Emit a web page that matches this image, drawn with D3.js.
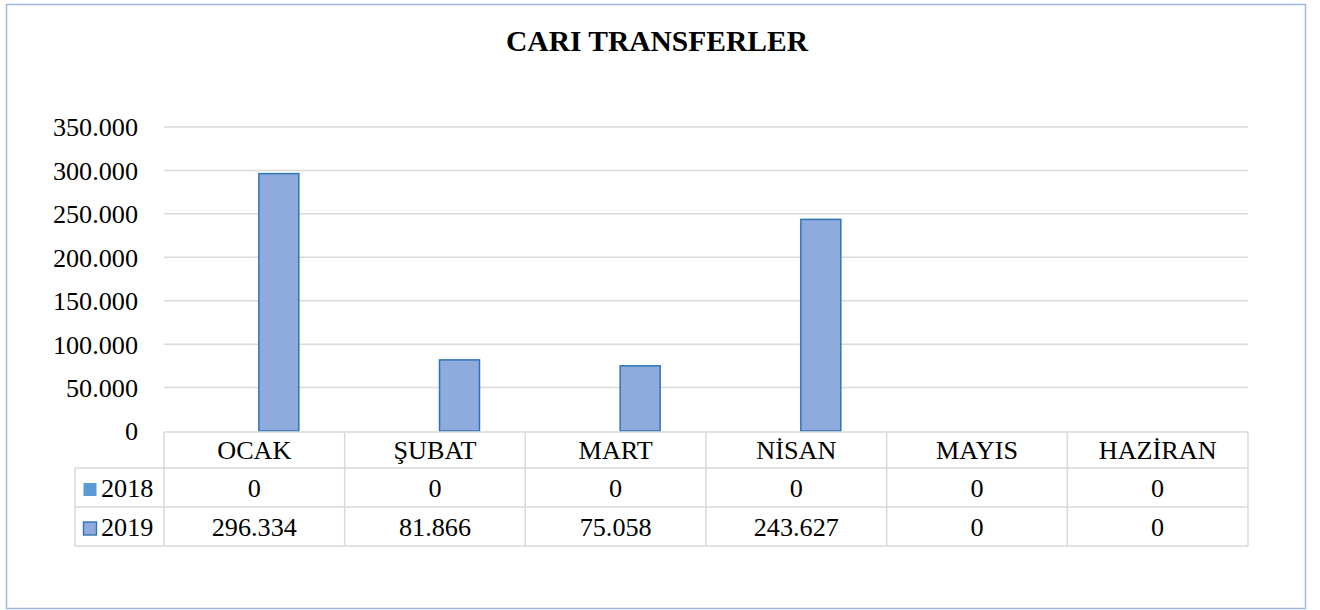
<!DOCTYPE html>
<html><head><meta charset="utf-8">
<script src="https://cdn.jsdelivr.net/npm/d3@7"></script>
<style>body{margin:0;background:#fff}svg{display:block}text{font-family:"Liberation Serif","Times New Roman",serif;fill:#000}</style>
</head><body><svg id="c" width="1320" height="610"></svg>
<script>
const title = "CARI TRANSFERLER";
const categories = ["OCAK","ŞUBAT","MART","NİSAN","MAYIS","HAZİRAN"];
const seriesNames = ["2018","2019"];
const values2018 = [0,0,0,0,0,0];
const values2019 = [296334,81866,75058,243627,0,0];
const yTicks = [0,50000,100000,150000,200000,250000,300000,350000];

const series = [
  {name: seriesNames[0], values: values2018, fill: "#5b9bd5", stroke: "none"},
  {name: seriesNames[1], values: values2019, fill: "#8faadc", stroke: "#2e75b6"}
];
const loc = d3.formatLocale({thousands: ".", decimal: ",", grouping: [3], currency: ["",""]});
const fmt = loc.format(",");
const FS = 26.2;

const svg = d3.select("#c");
svg.append("rect").attr("x",6.5).attr("y",4.5).attr("width",1299).attr("height",604)
  .attr("fill","#fff").attr("stroke","#9bb8e2").attr("stroke-width",1.5);

svg.append("text").attr("x",657).attr("y",51).attr("text-anchor","middle")
  .attr("font-size",29.5).attr("font-weight","bold").text(title);

const left = 164, right = 1248;
const x = d3.scaleBand().domain(categories).range([left,right]).padding(0);
const xs = d3.scaleBand().domain(seriesNames).range([0,x.bandwidth()]).paddingInner(0.184).paddingOuter(0.936);
const y = d3.scaleLinear().domain([0,350000]).range([431,127]);

// gridlines
svg.append("g").selectAll("line").data(yTicks.filter(t=>t>0)).join("line")
  .attr("x1",left).attr("x2",right).attr("y1",d=>y(d)).attr("y2",d=>y(d))
  .attr("stroke","#d9d9d9").attr("stroke-width",1.5);

// y axis labels
const yAxis = d3.axisLeft(y).tickValues(yTicks).tickFormat(fmt).tickSize(0).tickPadding(0);
const ga = svg.append("g").attr("transform","translate(138,0)").call(yAxis)
  .attr("font-family","Liberation Serif").attr("font-size",FS);
ga.select(".domain").remove();
ga.selectAll("text").attr("fill","#000").attr("dy","0.34em");

// bars
series.forEach(s=>{
  svg.append("g").selectAll("rect").data(categories.map((c,i)=>({c, v:s.values[i]}))).join("rect")
    .attr("x",d=>x(d.c)+xs(s.name)).attr("width",xs.bandwidth())
    .attr("y",d=>y(d.v)).attr("height",d=>y(0)-y(d.v))
    .attr("fill",s.fill).attr("stroke",d=>d.v>0?s.stroke:"none").attr("stroke-width",1.5);
});

// data table
const tableLeft = 75, hTop = 432, r1 = 468, r2 = 507, bottom = 546;
const tg = svg.append("g").attr("stroke","#d9d9d9").attr("stroke-width",1.5);
tg.append("line").attr("x1",left).attr("x2",right).attr("y1",hTop).attr("y2",hTop);
[r1,r2,bottom].forEach(yy=>tg.append("line").attr("x1",tableLeft).attr("x2",right).attr("y1",yy).attr("y2",yy));
tg.append("line").attr("x1",tableLeft).attr("x2",tableLeft).attr("y1",r1).attr("y2",bottom);
const vx = categories.map(c=>x(c)).concat([right]);
vx.forEach(xx=>tg.append("line").attr("x1",xx).attr("x2",xx).attr("y1",hTop).attr("y2",bottom));

svg.append("g").selectAll("text").data(categories).join("text")
  .attr("x",d=>x(d)+x.bandwidth()/2).attr("y",459).attr("text-anchor","middle")
  .attr("font-size",FS).text(d=>d);

const rowsY = [497,536];
series.forEach((s,si)=>{
  svg.append("g").selectAll("text").data(s.values).join("text")
    .attr("x",(d,i)=>x(categories[i])+x.bandwidth()/2).attr("y",rowsY[si])
    .attr("text-anchor","middle").attr("font-size",FS).text(d=>fmt(d));
  svg.append("rect").attr("x",83.5).attr("y",rowsY[si]-14).attr("width",13).attr("height",13)
    .attr("fill",s.fill).attr("stroke",s.stroke==="none"?"none":s.stroke).attr("stroke-width",1.4);
  svg.append("text").attr("x",101).attr("y",rowsY[si]).attr("font-size",FS).text(s.name);
});
</script></body></html>
